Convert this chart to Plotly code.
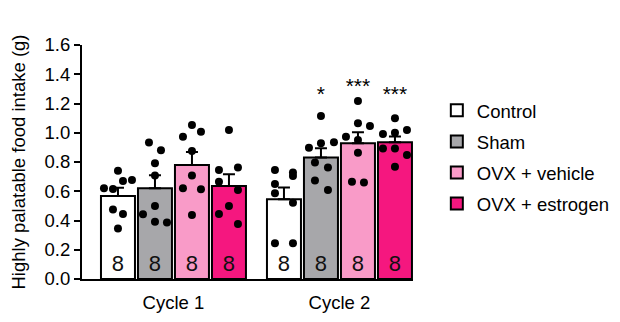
import plotly.graph_objects as go

cycles = ["Cycle 1", "Cycle 2"]
groups = ["Control", "Sham", "OVX + vehicle", "OVX + estrogen"]
colors = ["#ffffff", "#a7a7aa", "#f99bc8", "#f5177f"]

# bar means and SEM, [cycle1, cycle2] per group
means = {
    "Control": [0.567, 0.545],
    "Sham": [0.62, 0.83],
    "OVX + vehicle": [0.78, 0.928],
    "OVX + estrogen": [0.636, 0.935],
}
sems = {
    "Control": [0.057, 0.08],
    "Sham": [0.09, 0.064],
    "OVX + vehicle": [0.088, 0.075],
    "OVX + estrogen": [0.08, 0.04],
}
n_labels = ["8", "8"]

# individual points per group per cycle
points = {
    ("Control", 0): [0.620, 0.615, 0.741, 0.670, 0.677, 0.476, 0.444, 0.346],
    ("Sham", 0): [0.934, 0.880, 0.791, 0.707, 0.442, 0.499, 0.392, 0.387],
    ("OVX + vehicle", 0): [1.053, 0.973, 1.007, 0.875, 0.707, 0.620, 0.613, 0.438],
    ("OVX + estrogen", 0): [1.019, 0.745, 0.763, 0.665, 0.609, 0.499, 0.444, 0.376],
    ("Control", 1): [0.745, 0.729, 0.704, 0.650, 0.586, 0.522, 0.244, 0.244],
    ("Sham", 1): [1.115, 0.898, 0.928, 0.935, 0.796, 0.763, 0.673, 0.609],
    ("OVX + vehicle", 1): [1.217, 1.065, 1.046, 0.973, 0.950, 0.864, 0.665, 0.659],
    ("OVX + estrogen", 1): [1.099, 0.991, 1.000, 1.019, 0.893, 0.893, 0.848, 0.768],
}
# horizontal scatter of points within each bar (px)
jitter = {
    ("Control", 0): [-14, -5, 0, 5, 14, -5, 5, 0],
    ("Sham", 0): [-6, 6, 0, 0, -12, 0, 0, 12],
    ("OVX + vehicle", 0): [0, -9, 9, 0, 0, -9, 9, 0],
    ("OVX + estrogen", 0): [0, -10, 9, -10, 9, 0, -10, 9],
    ("Control", 1): [-9, 9, 9, -9, -9, 9, -9, 9],
    ("Sham", 1): [0, -12, 0, 13, -6, 7, -6, 7],
    ("OVX + vehicle", 1): [0, 0, 12, -12, 0, 0, -6, 6],
    ("OVX + estrogen", 1): [0, -12, 0, 12, -12, 0, 12, 0],
}
# significance marks (cycle 2)
sig_text = {"Sham": "*", "OVX + vehicle": "***", "OVX + estrogen": "***"}
sig_y = {"Sham": 1.25, "OVX + vehicle": 1.31, "OVX + estrogen": 1.25}

PX = 1 / 166.0
step = 37 * PX
bw = 34 * PX
FONT = "Liberation Sans, Arial, sans-serif"
FS = 18.5

fig = go.Figure()
for gi, g in enumerate(groups):
    xs = [ci + (gi - 1.5) * step for ci in range(len(cycles))]
    fig.add_trace(go.Bar(
        x=xs, y=means[g], width=bw, name=g,
        marker=dict(color=colors[gi], line=dict(color="black", width=2)),
        error_y=dict(type="data", symmetric=False, array=sems[g],
                     arrayminus=[0, 0], color="black", thickness=2, width=6),
        text=n_labels, textposition="inside", insidetextanchor="start",
        textfont=dict(size=22, color="#111111", family=FONT),
        textangle=0, legendgroup=g, cliponaxis=False,
    ))
for gi, g in enumerate(groups):
    for ci in range(len(cycles)):
        cx = ci + (gi - 1.5) * step
        ys = points[(g, ci)]
        xs = [cx + j * PX for j in jitter[(g, ci)]]
        fig.add_trace(go.Scatter(
            x=xs, y=ys, mode="markers", showlegend=False,
            marker=dict(color="black", size=8), cliponaxis=False,
        ))
sx, sy, st = [], [], []
for gi, g in enumerate(groups):
    if g in sig_text:
        sx.append(1 + (gi - 1.5) * step)
        sy.append(sig_y[g])
        st.append(sig_text[g])
fig.add_trace(go.Scatter(x=sx, y=sy, text=st, mode="text", showlegend=False,
                         textfont=dict(size=21, color="black", family=FONT),
                         cliponaxis=False))

# page body adds an 8px offset; compensate in figure size and margins
fig.update_layout(
    width=612, height=314,
    margin=dict(l=74, r=207, t=37, b=43, autoexpand=False),
    plot_bgcolor="white", paper_bgcolor="white",
    font=dict(family=FONT, size=FS, color="black"),
    showlegend=True, barmode="overlay",
    legend=dict(x=1.072, y=0.80, xanchor="left", yanchor="top",
                font=dict(size=FS, family=FONT), traceorder="grouped",
                tracegroupgap=4, bgcolor="rgba(0,0,0,0)"),
    xaxis=dict(range=[-0.551, 1.443], tickvals=[0, 1], ticktext=cycles,
               showline=True, linecolor="black", linewidth=2, ticks="",
               showgrid=False, zeroline=False, tickfont=dict(size=FS),
               automargin=False, ticklabelstandoff=6),
    yaxis=dict(range=[0, 1.6], tickvals=[0, 0.2, 0.4, 0.6, 0.8, 1.0, 1.2, 1.4, 1.6],
               ticktext=["0.0", "0.2", "0.4", "0.6", "0.8", "1.0", "1.2", "1.4", "1.6"],
               showline=True, linecolor="black", linewidth=2, ticks="outside",
               ticklen=6, tickwidth=2, tickcolor="black", showgrid=False,
               zeroline=False, tickfont=dict(size=FS), automargin=False,
               title=dict(text="Highly palatable food intake (g)",
                          font=dict(size=FS), standoff=16)),
)
fig.write_html("out.html")
